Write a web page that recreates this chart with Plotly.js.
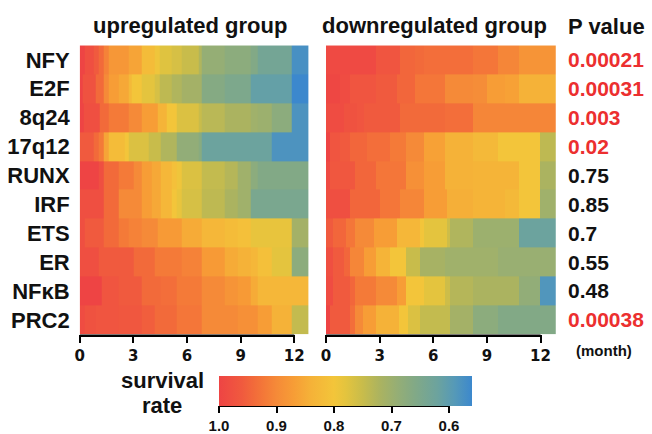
<!DOCTYPE html>
<html>
<head>
<meta charset="utf-8">
<script src="https://cdn.plot.ly/plotly-3.0.1.min.js"></script>
<style>html,body{margin:0;padding:0;background:#fff;}#chart{width:652px;height:434px;}</style>
</head>
<body>
<div id="chart"></div>
<script>
// ---- data ----
const rows = ['NFY', 'E2F', '8q24', '17q12', 'RUNX', 'IRF', 'ETS', 'ER', 'NF\u03baB', 'PRC2'];
const monthTicks = [0, 3, 6, 9, 12];
const pValues = [0.00021, 0.00031, 0.003, 0.02, 0.75, 0.85, 0.7, 0.55, 0.48, 0.00038];
const colorbarTicks = [1.0, 0.9, 0.8, 0.7, 0.6];
const survMin = 0.56, survMax = 1.0;
const upEnd = 12.8, downEnd = 12.85;

// upregulated group: step start times (months) and survival rate of each step
const upTimes = [
  [0, 0.3, 0.76, 1.04, 1.32, 1.6, 2.72, 3.46, 4.21, 4.49, 5.14, 5.7, 6.63, 6.82, 8.12, 9.57, 9.94, 11.84],
  [0, 0.15, 0.89, 1.32, 1.6, 2.16, 2.72, 2.91, 3.46, 4.21, 4.49, 5.14, 5.7, 6.82, 8.12, 9.57, 11.84],
  [0, 0.24, 1.14, 1.6, 2.72, 3.46, 4.39, 4.86, 5.42, 6.63, 6.82, 8.12, 9.57, 9.94, 10.73, 11.84],
  [0, 0.76, 1.04, 1.32, 1.6, 2.53, 2.72, 3.84, 4.54, 5.42, 6.63, 6.82, 10.73],
  [0, 1.04, 1.32, 2.16, 3.0, 3.46, 4.02, 4.54, 5.14, 5.42, 5.7, 6.82, 8.12, 8.86, 9.57, 9.94],
  [0, 1.32, 2.16, 3.46, 4.02, 4.54, 5.14, 5.42, 5.7, 6.82, 8.12, 8.86, 9.57],
  [0, 0.3, 1.32, 2.16, 2.72, 3.46, 4.39, 5.7, 6.82, 8.12, 8.86, 9.57, 11.84],
  [0, 1.04, 3.0, 4.21, 5.7, 6.82, 8.12, 8.86, 9.57, 9.94, 10.73, 11.84],
  [0, 1.23, 2.16, 3.46, 4.54, 5.42, 6.82, 8.12, 8.86, 9.57, 9.94],
  [0, 0.3, 0.89, 2.16, 3.46, 4.21, 5.42, 6.82, 8.86, 9.94, 10.73, 11.84]
];
const upSurv = [
  [1.0, 0.98, 0.96, 0.94, 0.91, 0.88, 0.86, 0.82, 0.795, 0.775, 0.765, 0.75, 0.725, 0.69, 0.675, 0.66, 0.635, 0.575],
  [1.0, 0.975, 0.94, 0.9, 0.87, 0.855, 0.825, 0.8, 0.78, 0.765, 0.74, 0.725, 0.71, 0.665, 0.65, 0.61, 0.56],
  [1.0, 0.98, 0.94, 0.92, 0.9, 0.87, 0.835, 0.8, 0.77, 0.75, 0.735, 0.72, 0.705, 0.7, 0.675, 0.58],
  [0.96, 0.94, 0.92, 0.86, 0.82, 0.8, 0.77, 0.75, 0.725, 0.685, 0.67, 0.62, 0.58],
  [1.0, 0.98, 0.94, 0.92, 0.9, 0.87, 0.855, 0.83, 0.81, 0.795, 0.77, 0.745, 0.73, 0.705, 0.675, 0.66],
  [0.98, 0.94, 0.9, 0.87, 0.855, 0.83, 0.8, 0.785, 0.765, 0.74, 0.72, 0.705, 0.645],
  [0.98, 0.96, 0.94, 0.92, 0.91, 0.9, 0.875, 0.85, 0.83, 0.82, 0.81, 0.785, 0.71],
  [0.98, 0.96, 0.94, 0.92, 0.91, 0.875, 0.85, 0.84, 0.83, 0.81, 0.78, 0.675],
  [1.0, 0.97, 0.96, 0.94, 0.935, 0.92, 0.9, 0.885, 0.875, 0.85, 0.83],
  [0.985, 0.975, 0.97, 0.965, 0.955, 0.94, 0.925, 0.9, 0.89, 0.87, 0.84, 0.745]
];

// downregulated group
const downTimes = [
  [0, 2.79, 4.13, 4.97, 5.47, 8.23, 9.63, 10.78],
  [0, 0.78, 1.34, 2.79, 3.95, 4.97, 6.65, 8.23, 8.98, 10.0, 10.78],
  [0, 1.01, 1.71, 2.12, 4.13, 6.65, 8.23],
  [0, 0.22, 0.78, 1.34, 2.27, 3.58, 4.47, 5.47, 6.65, 8.23, 9.63, 11.96],
  [0, 0.22, 1.62, 2.79, 4.47, 5.47, 6.65, 8.23, 10.78, 11.96],
  [0, 1.34, 3.02, 4.13, 5.47, 6.74, 8.23, 10.0, 10.78, 11.96],
  [0, 0.41, 1.12, 1.62, 2.68, 3.99, 5.25, 5.47, 6.74, 6.93, 8.23, 10.78],
  [0, 0.41, 1.01, 1.34, 2.12, 2.79, 3.58, 4.47, 5.25, 6.65, 9.63],
  [0, 0.41, 1.34, 1.62, 2.79, 3.99, 4.47, 5.47, 6.65, 6.93, 8.23, 10.78, 11.96],
  [0, 0.22, 1.34, 1.62, 2.09, 2.79, 4.1, 4.6, 5.25, 6.93, 8.23, 9.63]
];
const downSurv = [
  [0.99, 0.97, 0.945, 0.94, 0.935, 0.925, 0.905, 0.885],
  [0.995, 0.985, 0.97, 0.96, 0.945, 0.925, 0.9, 0.895, 0.87, 0.865, 0.84],
  [0.985, 0.975, 0.97, 0.96, 0.94, 0.935, 0.905],
  [1.0, 0.97, 0.96, 0.945, 0.935, 0.92, 0.9, 0.865, 0.84, 0.825, 0.8, 0.74],
  [0.99, 0.965, 0.945, 0.925, 0.89, 0.87, 0.84, 0.835, 0.8, 0.72],
  [0.98, 0.945, 0.925, 0.905, 0.87, 0.845, 0.835, 0.825, 0.8, 0.705],
  [0.96, 0.945, 0.925, 0.9, 0.87, 0.83, 0.8, 0.78, 0.755, 0.725, 0.7, 0.62],
  [0.98, 0.96, 0.945, 0.905, 0.87, 0.835, 0.8, 0.75, 0.715, 0.705, 0.695],
  [0.985, 0.96, 0.945, 0.92, 0.9, 0.87, 0.8, 0.78, 0.755, 0.73, 0.72, 0.685, 0.585],
  [1.0, 0.96, 0.935, 0.9, 0.87, 0.84, 0.8, 0.77, 0.745, 0.71, 0.675, 0.66]
];

// ---- colour scale: survival value -> colour ----
const scaleStops = [1.0, 0.96, 0.94, 0.92, 0.90, 0.87, 0.84, 0.80, 0.78, 0.75, 0.72, 0.69, 0.66, 0.62, 0.59, 0.56];
const scaleColors = ['#EE4444', '#F05A3E', '#F26A3A', '#F47A38', '#F58A38', '#F79D36', '#F5B238', '#F3C53A',
                     '#E4C43E', '#C8BC4B', '#ABB360', '#95AE75', '#82A986', '#6CA39E', '#5599B8', '#3C88CD'];
// z is plotted as -survival so that 1.0 sits at the left end of the horizontal colour bar
const colorscale = scaleStops.map((s, i) => [(survMax - s) / (survMax - survMin), scaleColors[i]]);

function buildGrid(times, surv, end) {
  const edges = Array.from(new Set(times.flat().concat([end]))).sort((a, b) => a - b);
  const z = times.map((t, r) => edges.slice(0, -1).map((e0, i) => {
    const mid = (e0 + edges[i + 1]) / 2;
    let v = surv[r][0];
    for (let k = 0; k < t.length; k++) if (t[k] <= mid) v = surv[r][k];
    return -v;
  }));
  return { edges, z };
}
const up = buildGrid(upTimes, upSurv, upEnd);
const down = buildGrid(downTimes, downSurv, downEnd);

// ---- layout geometry (pixels -> paper) ----
const W = 652, H = 434;
const px = v => v / W, py = v => 1 - v / H;
const monthPx = 17.88;
const upX0 = 79.7, downX0 = 326;
const rowTop = 46, rowBottom = 339;

const boldArial = (size, color) => ({ family: 'Liberation Sans, Arial, sans-serif', size: size, weight: 'bold', color: color || '#111' });
const boldWide = (size, color) => ({ family: 'DejaVu Sans, sans-serif', size: size, weight: 'bold', color: color || '#111' });

const traces = [
  { type: 'heatmap', x: up.edges, y: rows, z: up.z, coloraxis: 'coloraxis', xaxis: 'x', yaxis: 'y', hoverinfo: 'skip' },
  { type: 'heatmap', x: down.edges, y: rows, z: down.z, coloraxis: 'coloraxis', xaxis: 'x2', yaxis: 'y', hoverinfo: 'skip' }
];

const xCommon = {
  tickvals: monthTicks, ticks: 'outside', ticklen: 8, tickwidth: 2, tickcolor: '#000',
  showgrid: false, zeroline: false, showline: false, anchor: 'y',
  tickfont: boldWide(15, '#111'), fixedrange: true
};

const annotations = [
  { text: 'upregulated group', x: px(190), y: py(26), xref: 'paper', yref: 'paper', showarrow: false, font: boldArial(22), xanchor: 'center', yanchor: 'middle' },
  { text: 'downregulated group', x: px(434), y: py(26), xref: 'paper', yref: 'paper', showarrow: false, font: boldArial(22), xanchor: 'center', yanchor: 'middle' },
  { text: 'P value', x: px(566), y: py(27), xref: 'paper', yref: 'paper', showarrow: false, font: boldArial(22), xanchor: 'left', yanchor: 'middle' },
  { text: '(month)', x: px(604), y: py(355), xref: 'paper', yref: 'paper', showarrow: false, font: boldArial(15), xanchor: 'center', yanchor: 'middle' },
  { text: 'survival', x: px(162), y: py(386), xref: 'paper', yref: 'paper', showarrow: false, font: boldArial(22), xanchor: 'center', yanchor: 'middle' },
  { text: 'rate', x: px(162), y: py(411), xref: 'paper', yref: 'paper', showarrow: false, font: boldArial(22), xanchor: 'center', yanchor: 'middle' }
];
pValues.forEach((p, i) => {
  annotations.push({
    text: String(p), x: px(566), y: i, xref: 'paper', yref: 'y', showarrow: false,
    xanchor: 'left', yanchor: 'middle', font: boldArial(21, p < 0.05 ? '#EC2F2F' : '#111')
  });
});

const layout = {
  width: W, height: H,
  margin: { l: 0, r: 0, t: 0, b: 0 },
  paper_bgcolor: '#fff', plot_bgcolor: '#fff',
  showlegend: false,
  xaxis: Object.assign({}, xCommon, { domain: [px(upX0), px(upX0 + upEnd * monthPx)], range: [0, upEnd] }),
  xaxis2: Object.assign({}, xCommon, { domain: [px(downX0), px(downX0 + downEnd * monthPx)], range: [0, downEnd] }),
  yaxis: {
    domain: [py(rowBottom), py(rowTop)], type: 'category', range: [9.5, -0.5],
    showgrid: false, zeroline: false, showline: false, ticks: '', ticklabelstandoff: 9,
    tickfont: boldArial(22), fixedrange: true
  },
  coloraxis: {
    colorscale: colorscale, cmin: -survMax, cmax: -survMin,
    colorbar: {
      orientation: 'h', thickness: 30, thicknessmode: 'pixels', len: 253, lenmode: 'pixels',
      x: px(219), xanchor: 'left', y: py(381), yanchor: 'top', xpad: 0, ypad: 0,
      outlinewidth: 0, ticks: 'outside', ticklen: 7, tickwidth: 2, tickcolor: '#000',
      tickvals: colorbarTicks.map(v => -v), ticktext: colorbarTicks.map(v => v.toFixed(1)),
      tickfont: boldArial(15)
    }
  },
  shapes: [
    { type: 'line', xref: 'x', yref: 'paper', x0: 0, x1: 12, y0: py(340.5), y1: py(340.5), line: { color: '#000', width: 2.5 } },
    { type: 'line', xref: 'x2', yref: 'paper', x0: 0, x1: 12, y0: py(340.5), y1: py(340.5), line: { color: '#000', width: 2.5 } },
    { type: 'line', xref: 'paper', yref: 'paper', x0: px(219), x1: px(449.5), y0: py(411.5), y1: py(411.5), line: { color: '#000', width: 2.5 } }
  ],
  annotations: annotations
};

Plotly.newPlot('chart', traces, layout, { staticPlot: true, displayModeBar: false });
</script>
</body>
</html>
